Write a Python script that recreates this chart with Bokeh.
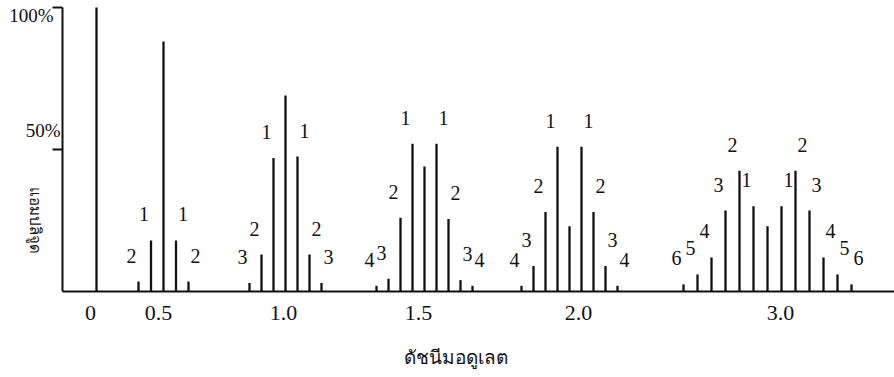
import numpy as np
from bokeh.plotting import figure
from bokeh.models import Range1d, FixedTicker, ColumnDataSource, Label
from bokeh.core.properties import value
from bokeh.embed import file_html
from bokeh.resources import INLINE

# ---------------- data ----------------
# modulation index of each spectrum
mod_index_labels = ["0", "0.5", "1.0", "1.5", "2.0", "3.0"]
# relative amplitudes, lowest sideband -> carrier -> highest sideband
amp_beta_0_0 = [1.00]
amp_beta_0_5 = [0.035, 0.18, 0.88, 0.18, 0.035]
amp_beta_1_0 = [0.03, 0.13, 0.47, 0.69, 0.475, 0.13, 0.03]
amp_beta_1_5 = [0.02, 0.045, 0.26, 0.52, 0.44, 0.52, 0.255, 0.04, 0.02]
amp_beta_2_0 = [0.02, 0.09, 0.28, 0.51, 0.23, 0.51, 0.28, 0.09, 0.02]
amp_beta_3_0 = [0.025, 0.06, 0.12, 0.285, 0.425, 0.30, 0.23, 0.30, 0.425, 0.285, 0.12, 0.06, 0.025]
y_tick_values = [0.5, 1.0]
y_tick_labels = ["50%", "100%"]
x_title = "ดัชนีมอดูเลต"
y_title = "แอมปลิจูด"

# ---------------- layout (positions along the drawing axis) ----------------
group_center = [34, 101, 223, 362, 507, 705]
group_spacing = [0, 12.5, 12, 12, 12, 14]
tick_pos = [28, 96, 221, 356, 516, 718]

groups = [amp_beta_0_0, amp_beta_0_5, amp_beta_1_0, amp_beta_1_5, amp_beta_2_0, amp_beta_3_0]

bar_x, bar_amp = [], []
lab_x, lab_y, lab_t, lab_dx = [], [], [], []
for amps, c, s in zip(groups, group_center, group_spacing):
    n_side = (len(amps) - 1) // 2
    for k, a in enumerate(amps):
        n = k - n_side
        x = c + n * s
        bar_x.append(x)
        bar_amp.append(a)
        if n != 0:
            lab_x.append(x)
            lab_y.append(a)
            lab_t.append(str(abs(n)))
            lab_dx.append(-7 if n < 0 else 7)

bars = ColumnDataSource(dict(x=bar_x, amp=bar_amp))
labs = ColumnDataSource(dict(x=lab_x, y=lab_y, t=lab_t, dx=lab_dx))

# frame covers the whole canvas; the axes are pinned at x=0 / y=0
p = figure(width=894, height=377,
           x_range=Range1d(-62, 832), y_range=Range1d(-86 / 284, 291 / 284),
           output_backend="svg", toolbar_location=None,
           min_border_left=0, min_border_right=0, min_border_top=0, min_border_bottom=0)
p.outline_line_color = None
p.xgrid.grid_line_color = None
p.ygrid.grid_line_color = None
p.background_fill_color = "white"
p.border_fill_color = "white"

ink = "#111111"
p.segment(x0="x", y0=0, x1="x", y1="amp", source=bars, line_width=2.3, line_color=ink)
p.text(x="x", y="y", text="t", x_offset="dx", y_offset=-26, source=labs,
       text_font=value("Liberation Serif"), text_font_size="20px", text_color=ink,
       text_align="center", text_baseline="middle")

# x axis
xa = p.xaxis[0]
xa.fixed_location = 0
xa.bounds = (0, 832)
xa.ticker = FixedTicker(ticks=tick_pos)
xa.major_label_overrides = {t: l for t, l in zip(tick_pos, mod_index_labels)}
xa.major_tick_line_color = None
xa.minor_tick_line_color = None
xa.axis_line_width = 2
xa.axis_line_color = ink
xa.major_label_text_font = "Liberation Serif"
xa.major_label_text_font_size = "22px"
xa.major_label_text_color = ink
xa.major_label_standoff = 8

# y axis
ya = p.yaxis[0]
ya.fixed_location = 0
ya.bounds = (0, 1)
ya.ticker = FixedTicker(ticks=y_tick_values)
ya.major_label_overrides = {t: "" for t in y_tick_values}
ya.major_tick_out = 10
ya.major_tick_in = 0
ya.major_tick_line_width = 2
ya.major_tick_line_color = ink
ya.minor_tick_line_color = None
ya.axis_line_width = 2
ya.axis_line_color = ink

# y tick labels placed as in the original (above the tick marks) and axis titles
p.add_layout(Label(x=-9, y=0.972, text=y_tick_labels[1], text_align="right", text_baseline="middle",
                   text_font="Liberation Serif", text_font_size="19px", text_color=ink))
p.add_layout(Label(x=-2, y=0.567, text=y_tick_labels[0], text_align="right", text_baseline="middle",
                   text_font="Liberation Serif", text_font_size="19px", text_color=ink))
p.add_layout(Label(x=-27, y=0.25, text=y_title, angle=-np.pi / 2, text_align="center",
                   text_baseline="middle", text_font="Noto Sans", text_font_size="15px",
                   text_color=ink))
p.add_layout(Label(x=393, y=-0.23, text=x_title, text_align="center", text_baseline="middle",
                   text_font="Noto Sans", text_font_size="19px", text_color=ink))

open("out.html", "w").write(file_html(p, INLINE))
